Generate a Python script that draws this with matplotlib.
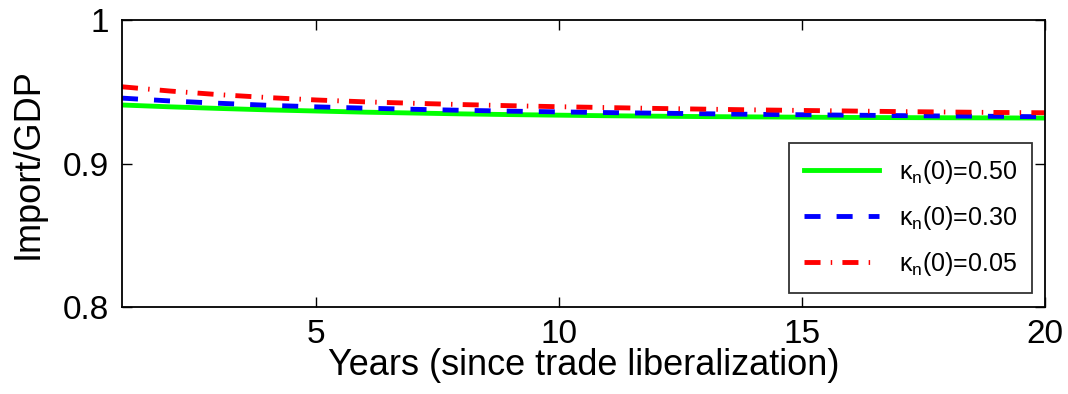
import numpy as np
import matplotlib
matplotlib.use('Agg')
import matplotlib.pyplot as plt

plt.rcParams['font.family'] = ['Liberation Sans', 'DejaVu Sans']
plt.rcParams['mathtext.fontset'] = 'custom'
plt.rcParams['mathtext.rm'] = 'Liberation Sans'
plt.rcParams['mathtext.it'] = 'Liberation Sans:italic'

years = np.arange(1, 21)
k050 = [0.9408, 0.9395, 0.9384, 0.9374, 0.9366, 0.9358, 0.9352, 0.9346, 0.9341, 0.9337,
        0.9333, 0.9330, 0.9327, 0.9325, 0.9323, 0.9321, 0.9320, 0.9319, 0.9318, 0.9317]
k030 = [0.9456, 0.9436, 0.9420, 0.9406, 0.9395, 0.9386, 0.9378, 0.9371, 0.9365, 0.9360,
        0.9355, 0.9351, 0.9347, 0.9343, 0.9340, 0.9337, 0.9334, 0.9331, 0.9329, 0.9326]
k005 = [0.9535, 0.9505, 0.9480, 0.9460, 0.9443, 0.9430, 0.9420, 0.9411, 0.9403, 0.9396,
        0.9390, 0.9384, 0.9379, 0.9374, 0.9370, 0.9366, 0.9362, 0.9359, 0.9356, 0.9354]
labels = [r'κ$_{\rm n}$(0)=0.50', r'κ$_{\rm n}$(0)=0.30', r'κ$_{\rm n}$(0)=0.05']

fig = plt.figure(figsize=(10.68, 3.94), dpi=100)
ax = fig.add_axes([0.1142, 0.221, 0.8642, 0.728])

ax.plot(years, k050, color='#00ff00', lw=3.5, label=labels[0])
ax.plot(years, k030, color='#0000ff', lw=3.5, ls=(0, (3.3, 3.3)), label=labels[1])
ax.plot(years, k005, color='#ff0000', lw=3.5, ls=(0, (3.3, 2.1, 0.3, 2.1)), label=labels[2])

ax.set_xlim(1, 20)
ax.set_ylim(0.8, 1.0)
ax.set_xticks([5, 10, 15, 20])
ax.set_yticks([0.8, 0.9, 1.0])
ax.set_yticklabels(['0.8', '0.9', '1'])
ax.tick_params(direction='in', top=True, right=True, labelsize=24, length=7, width=1, pad=9)
for s in ax.spines.values():
    s.set_linewidth(1.3)
ax.set_xlabel('Years (since trade liberalization)', fontsize=26, labelpad=-2)
ax.set_ylabel('Import/GDP', fontsize=26, labelpad=13)

leg = ax.legend(loc='lower right', fontsize=18, frameon=True, fancybox=False,
                edgecolor='black', handlelength=3.0, labelspacing=0.72,
                borderpad=0.6, borderaxespad=0, bbox_to_anchor=(0.986, 0.049))
leg.get_frame().set_linewidth(1.3)

fig.savefig('out.png', dpi=100)
